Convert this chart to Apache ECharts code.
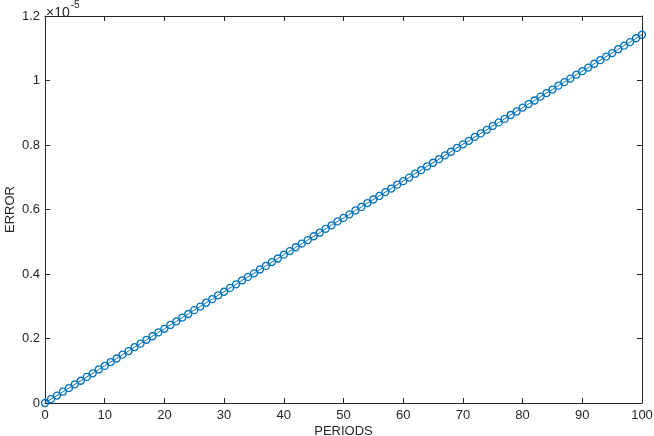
<!DOCTYPE html>
<html>
<head>
<meta charset="utf-8">
<script src="https://cdn.jsdelivr.net/npm/echarts@6/dist/echarts.min.js"></script>
<style>
  html, body { margin: 0; padding: 0; background: #fff; }
  #chart { width: 654px; height: 436px; }
</style>
</head>
<body>
<div id="chart"></div>
<script>
  // periods 0..100
  const periods = [
    0, 1, 2, 3, 4, 5, 6, 7, 8, 9, 10, 11, 12, 13, 14, 15, 16, 17, 18, 19, 20,
    21, 22, 23, 24, 25, 26, 27, 28, 29, 30, 31, 32, 33, 34, 35, 36, 37, 38, 39, 40,
    41, 42, 43, 44, 45, 46, 47, 48, 49, 50, 51, 52, 53, 54, 55, 56, 57, 58, 59, 60,
    61, 62, 63, 64, 65, 66, 67, 68, 69, 70, 71, 72, 73, 74, 75, 76, 77, 78, 79, 80,
    81, 82, 83, 84, 85, 86, 87, 88, 89, 90, 91, 92, 93, 94, 95, 96, 97, 98, 99, 100
  ];
  // error, in units of 1e-5
  const errorE5 = [
    0, 0.012, 0.023, 0.035, 0.046, 0.058, 0.069, 0.081, 0.092, 0.104, 0.115,
    0.127, 0.138, 0.150, 0.161, 0.173, 0.184, 0.196, 0.207, 0.219, 0.230,
    0.242, 0.253, 0.265, 0.276, 0.288, 0.299, 0.311, 0.322, 0.334, 0.345,
    0.357, 0.368, 0.380, 0.391, 0.402, 0.414, 0.425, 0.437, 0.448, 0.460,
    0.471, 0.483, 0.494, 0.505, 0.517, 0.528, 0.540, 0.551, 0.563, 0.574,
    0.585, 0.597, 0.608, 0.620, 0.631, 0.642, 0.654, 0.665, 0.677, 0.688,
    0.699, 0.711, 0.722, 0.734, 0.745, 0.756, 0.768, 0.779, 0.791, 0.802,
    0.813, 0.825, 0.836, 0.847, 0.859, 0.870, 0.881, 0.893, 0.904, 0.916,
    0.927, 0.938, 0.950, 0.961, 0.972, 0.984, 0.995, 1.006, 1.018, 1.029,
    1.040, 1.052, 1.063, 1.074, 1.085, 1.097, 1.108, 1.119, 1.131, 1.142
  ];
  const xTicks = [0, 10, 20, 30, 40, 50, 60, 70, 80, 90, 100];
  const yTicks = [0, 0.2, 0.4, 0.6, 0.8, 1, 1.2];

  const axisColor = '#262626';
  const font = 'Liberation Sans, Arial, Helvetica, sans-serif';

  const chart = echarts.init(document.getElementById('chart'));

  const baseX = {
    type: 'value',
    min: xTicks[0],
    max: xTicks[xTicks.length - 1],
    interval: 10,
    axisLine: { show: true, onZero: false, lineStyle: { color: axisColor, width: 1 } },
    axisTick: { show: true, inside: true, length: 5, lineStyle: { color: axisColor } },
    splitLine: { show: false },
  };
  const baseY = {
    type: 'value',
    min: yTicks[0],
    max: yTicks[yTicks.length - 1],
    interval: 0.2,
    axisLine: { show: true, onZero: false, lineStyle: { color: axisColor, width: 1 } },
    axisTick: { show: true, inside: true, length: 5, lineStyle: { color: axisColor } },
    splitLine: { show: false },
  };

  const option = {
    animation: false,
    backgroundColor: '#fff',
    grid: { left: 45, top: 16, right: 12, bottom: 33, containLabel: false, outerBoundsMode: 'none' },
    xAxis: [
      Object.assign({}, baseX, {
        position: 'bottom',
        name: 'PERIODS',
        nameLocation: 'middle',
        nameGap: 22,
        nameMoveOverlap: false,
        nameTextStyle: { color: axisColor, fontSize: 13, fontFamily: font },
        axisLabel: { color: axisColor, fontSize: 13, fontFamily: font, margin: 6 },
      }),
      Object.assign({}, baseX, {
        position: 'top',
        axisLabel: { show: false },
      }),
    ],
    yAxis: [
      Object.assign({}, baseY, {
        position: 'left',
        name: 'ERROR',
        nameLocation: 'middle',
        nameGap: 28,
        nameMoveOverlap: false,
        nameTextStyle: { color: axisColor, fontSize: 13, fontFamily: font },
        axisLabel: {
          color: axisColor, fontSize: 13, fontFamily: font, margin: 5,
          formatter: (v) => String(Math.round(v * 10) / 10),
        },
      }),
      Object.assign({}, baseY, {
        position: 'right',
        axisLabel: { show: false },
      }),
    ],
    graphic: [
      {
        type: 'text',
        left: 46,
        top: 0,
        style: {
          text: '{a|×10}{b|-5}',
          rich: {
            a: { fontSize: 14, fontFamily: font, fill: axisColor, padding: [6, 0, 0, 0] },
            b: { fontSize: 10, fontFamily: font, fill: axisColor, verticalAlign: 'top', padding: [0, 0, 0, 1] },
          },
        },
      },
    ],
    series: [
      {
        type: 'line',
        xAxisIndex: 0,
        yAxisIndex: 0,
        data: periods.map((p, i) => [p, errorE5[i]]),
        symbol: 'circle',
        symbolSize: 7,
        showAllSymbol: true,
        lineStyle: { color: '#0072BD', width: 1 },
        itemStyle: { color: 'rgba(255,255,255,0)', borderColor: '#0072BD', borderWidth: 1.3 },
        clip: false,
      },
    ],
  };

  chart.setOption(option);
</script>
</body>
</html>
